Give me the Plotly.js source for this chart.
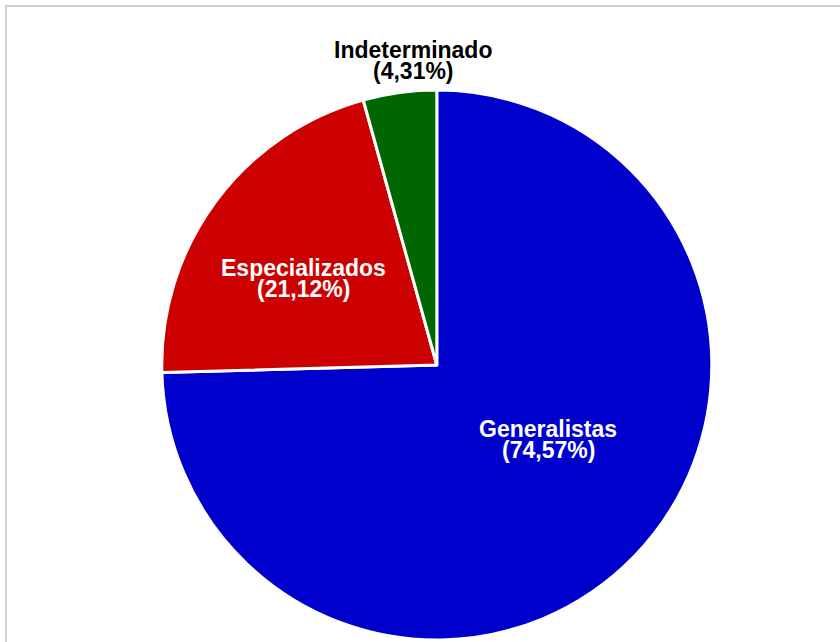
<!DOCTYPE html>
<html>
<head>
<meta charset="utf-8">
<script src="https://cdn.plot.ly/plotly-3.0.1.min.js"></script>
<style>
html,body{margin:0;padding:0;background:#fff;overflow:hidden;}
#chart{width:840px;height:642px;}
#frame{position:absolute;left:5px;top:5px;width:900px;height:700px;border:2px solid #cfcfcf;pointer-events:none;}
</style>
</head>
<body>
<div id="chart"></div>
<div id="frame"></div>
<script>
const categories = ['Generalistas', 'Especializados', 'Indeterminado'];
const shares = [74.57, 21.12, 4.31];
const colors = ['#0000CC', '#CC0000', '#006600'];
const labelColors = ['#ffffff', '#ffffff', '#000000'];

// label placement (pixel centres of the two text lines), layout only
const labelPlace = [
  {x: 548, y: 429, y2: 450},
  {x: 303, y: 268, y2: 289},
  {x: 413, y: 50, y2: 71}
];

const W = 840, H = 642;
const fontBase = {family: 'Liberation Sans, Arial, sans-serif', size: 23, weight: 'bold'};

const trace = {
  type: 'pie',
  labels: categories,
  values: shares,
  sort: false,
  direction: 'clockwise',
  rotation: 0,
  marker: {colors: colors, line: {color: '#ffffff', width: 3}},
  textinfo: 'none',
  hoverinfo: 'label+percent',
  showlegend: false,
  domain: {x: [0.04, 1], y: [2 / H, 552 / H]}
};

const annotations = [];
categories.forEach((c, i) => {
  const p = labelPlace[i];
  const pct = '(' + shares[i].toFixed(2).replace('.', ',') + '%)';
  const f = Object.assign({}, fontBase, {color: labelColors[i]});
  annotations.push({text: c, x: p.x / W, y: 1 - p.y / H, xref: 'paper', yref: 'paper',
    xanchor: 'center', yanchor: 'middle', showarrow: false, font: f});
  annotations.push({text: pct, x: p.x / W, y: 1 - p.y2 / H, xref: 'paper', yref: 'paper',
    xanchor: 'center', yanchor: 'middle', showarrow: false, font: f});
});

const layout = {
  width: W,
  height: H,
  margin: {l: 0, r: 0, t: 0, b: 0},
  paper_bgcolor: '#ffffff',
  plot_bgcolor: '#ffffff',
  showlegend: false,
  annotations: annotations
};

Plotly.newPlot('chart', [trace], layout, {displayModeBar: false, staticPlot: true});
</script>
</body>
</html>
